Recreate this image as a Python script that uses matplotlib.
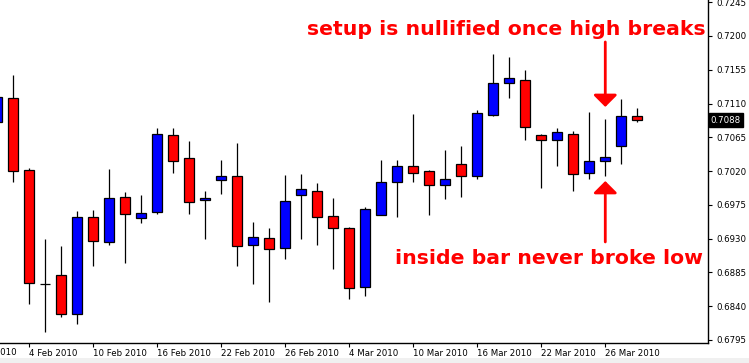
import numpy as np
import matplotlib
matplotlib.use("Agg")
import matplotlib.pyplot as plt
from matplotlib.patches import Rectangle

# daily EUR-style candles, 2 Feb .. 30 Mar 2010
dates = ['2 Feb', '3 Feb', '4 Feb', '5 Feb', '8 Feb', '9 Feb', '10 Feb', '11 Feb', '12 Feb',
         '15 Feb', '16 Feb', '17 Feb', '18 Feb', '19 Feb', '22 Feb', '23 Feb', '24 Feb',
         '25 Feb', '26 Feb', '1 Mar', '2 Mar', '3 Mar', '4 Mar', '5 Mar', '8 Mar', '9 Mar',
         '10 Mar', '11 Mar', '12 Mar', '15 Mar', '16 Mar', '17 Mar', '18 Mar', '19 Mar',
         '22 Mar', '23 Mar', '24 Mar', '25 Mar', '26 Mar', '29 Mar', '30 Mar']
opens = [0.7085, 0.7118, 0.7022, 0.6870, 0.6881, 0.6830, 0.6959, 0.6925, 0.6985, 0.6957,
         0.6965, 0.7068, 0.7037, 0.6981, 0.7008, 0.7014, 0.6921, 0.6931, 0.6917, 0.6988,
         0.6993, 0.6960, 0.6944, 0.6865, 0.6962, 0.7006, 0.7027, 0.7020, 0.7002, 0.7029,
         0.7014, 0.7095, 0.7137, 0.7142, 0.7068, 0.7062, 0.7069, 0.7017, 0.7034, 0.7053,
         0.7093]
highs = [0.7125, 0.7148, 0.7024, 0.6930, 0.6920, 0.6967, 0.6968, 0.7023, 0.6992, 0.6988,
         0.7077, 0.7077, 0.7060, 0.6993, 0.7035, 0.7057, 0.6952, 0.6944, 0.7015, 0.7016,
         0.7004, 0.6984, 0.6946, 0.6972, 0.7035, 0.7035, 0.7096, 0.7022, 0.7048, 0.7053,
         0.7101, 0.7176, 0.7172, 0.7155, 0.7070, 0.7077, 0.7073, 0.7099, 0.7089, 0.7116,
         0.7104]
lows = [0.7080, 0.7005, 0.6843, 0.6806, 0.6825, 0.6816, 0.6893, 0.6921, 0.6897, 0.6951,
        0.6963, 0.7017, 0.6963, 0.6929, 0.6990, 0.6893, 0.6870, 0.6846, 0.6903, 0.6929,
        0.6922, 0.6890, 0.6850, 0.6853, 0.6961, 0.6959, 0.7006, 0.6962, 0.6983, 0.6985,
        0.7009, 0.7093, 0.7117, 0.7062, 0.6998, 0.7027, 0.6993, 0.7009, 0.7013, 0.7030,
        0.7086]
closes = [0.7119, 0.7020, 0.6871, 0.6870, 0.6829, 0.6959, 0.6927, 0.6984, 0.6963, 0.6964,
          0.7069, 0.7034, 0.6979, 0.6984, 0.7013, 0.6920, 0.6932, 0.6916, 0.6980, 0.6996,
          0.6959, 0.6944, 0.6864, 0.6969, 0.7006, 0.7027, 0.7018, 0.7002, 0.7010, 0.7013,
          0.7097, 0.7138, 0.7144, 0.7079, 0.7062, 0.7072, 0.7016, 0.7034, 0.7039, 0.7093,
          0.7088]

yticks = [0.6795, 0.6840, 0.6885, 0.6930, 0.6975, 0.7020, 0.7065, 0.7110, 0.7155, 0.7200, 0.7245]
last_price = 0.7088

o = np.array(opens)
c = np.array(closes)
x = np.arange(len(dates))

fig = plt.figure(figsize=(7.49, 3.63), dpi=100)
fig.patches.append(Rectangle((0, 0), 1, 5 / 363, transform=fig.transFigure,
                             facecolor='#f0f0f0', edgecolor='none'))
ax = fig.add_axes([0, 20 / 363, 708 / 749, 343 / 363])

# wicks then bodies
ax.vlines(x, lows, highs, color='black', lw=0.9, zorder=1)
cols = np.where(c > o, '#0000ff', np.where(c < o, '#ff0000', 'black'))
hts = c - o
hts = np.where(hts == 0, 0.00002, hts)
ax.bar(x, hts, bottom=o, width=0.62, color=cols, edgecolor='black', lw=0.9, zorder=2)

# date ticks every 4 bars, labels start at the tick
tick_pos = list(range(2, len(dates), 4))
tick_lab = [dates[i] + ' 2010' for i in tick_pos]
ax.set_xticks(tick_pos)
ax.set_xticklabels(tick_lab, ha='left', fontsize=6.2)
ax.tick_params(axis='x', length=3, width=0.8, pad=1.5)
# the label of the tick just left of the window is still half visible
ax.text(-2, -0.0145, '29 Jan 2010', transform=ax.get_xaxis_transform(),
        ha='left', va='top', fontsize=6.2)

ax.yaxis.tick_right()
ax.set_yticks(yticks)
ax.set_yticklabels(['%.4f' % v for v in yticks], fontsize=6.2)
ax.tick_params(axis='y', length=3, width=0.8, pad=3)

ax.set_xlim(0.17, 44.42)
ax.set_ylim(0.6791, 0.72479)

for s in ['left', 'top']:
    ax.spines[s].set_visible(False)
for s in ['right', 'bottom']:
    ax.spines[s].set_linewidth(1.0)

ax.annotate('%.4f' % last_price, xy=(1.004, last_price), xycoords=('axes fraction', 'data'),
            va='center', ha='left', fontsize=6.2, color='white',
            bbox=dict(boxstyle='square,pad=0.25', facecolor='black', edgecolor='black'),
            annotation_clip=False)

ax.text(31.8, 0.7201, 'setup is nullified once high breaks', color='#ff0000',
        fontsize=14.7, fontweight='bold', ha='center', va='baseline')
ax.text(34.5, 0.6896, 'inside bar never broke low', color='#ff0000',
        fontsize=14.7, fontweight='bold', ha='center', va='baseline')

arrow = dict(arrowstyle='-|>,head_length=0.4,head_width=0.4', mutation_scale=18,
             lw=2.0, color='#ff0000', shrinkA=0, shrinkB=0)
ax.annotate('', xy=(38, 0.71054), xytext=(38, 0.71920), arrowprops=arrow)
ax.annotate('', xy=(38, 0.70068), xytext=(38, 0.69256), arrowprops=arrow)

fig.savefig('out.png', dpi=100)
